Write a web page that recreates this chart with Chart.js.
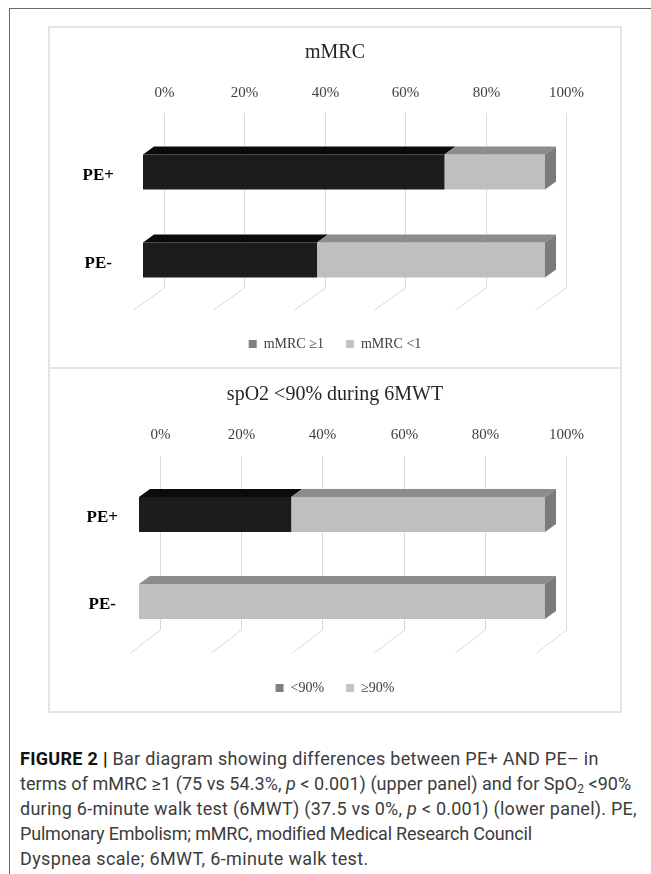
<!DOCTYPE html>
<html>
<head>
<meta charset="utf-8">
<script src="https://cdn.jsdelivr.net/npm/chart.js@4.4.1/dist/chart.umd.min.js"></script>
<style>
  body { margin: 0; background: #fff; }
  #page { position: relative; width: 651px; height: 874px; overflow: hidden; }
  .outer { position: absolute; left: 9px; top: 8px; width: 660px; height: 880px; border-left: 1.5px solid #666; border-top: 1.5px solid #666; }
  .frame { position: absolute; left: 48px; top: 26px; width: 574px; height: 687px; box-sizing: border-box; border: 2px solid #e4e4e4; }
  .divider { position: absolute; left: 48px; top: 367px; width: 574px; height: 2px; background: #e4e4e4; }
  canvas { position: absolute; }
  #mmrc { left: 50px; top: 28px; }
  #spo2 { left: 50px; top: 369px; }
  .caption { position: absolute; left: 20px; top: 746px; font-family: Roboto, sans-serif; font-size: 18px; line-height: 25px; color: #3c3c3c; white-space: nowrap; }
  .caption b { color: #111; }
  .caption sub { font-size: 12px; vertical-align: -3px; line-height: 0; }
</style>
</head>
<body>
<div id="page">
  <div class="outer"></div>
  <div class="frame"></div>
  <div class="divider"></div>
  <canvas id="mmrc" width="570" height="333"></canvas>
  <canvas id="spo2" width="570" height="336"></canvas>
  <div class="caption">
    <div style="letter-spacing:0.3px"><b>FIGURE 2 |</b> Bar diagram showing differences between PE+ AND PE– in</div>
    <div style="letter-spacing:0.05px">terms of mMRC ≥1 (75 vs 54.3%, <i>p</i> &lt; 0.001) (upper panel) and for SpO<sub>2</sub> &lt;90%</div>
    <div style="letter-spacing:0.25px">during 6-minute walk test (6MWT) (37.5 vs 0%, <i>p</i> &lt; 0.001) (lower panel). PE,</div>
    <div style="letter-spacing:-0.2px">Pulmonary Embolism; mMRC, modified Medical Research Council</div>
    <div style="letter-spacing:0.35px">Dyspnea scale; 6MWT, 6-minute walk test.</div>
  </div>
</div>
<script>
// values (percent of each group)
const groups = ["PE+", "PE-"];
const tickValues = [0, 20, 40, 60, 80, 100];
const mmrcAtLeast1 = [75, 43.3];
const mmrcBelow1 = [25, 56.7];
const spo2Below90 = [37.5, 0];
const spo2Above90 = [62.5, 100];

const serif = "'Liberation Serif', 'DejaVu Serif', serif";

// back wall grid + 3d faces of the bars (Excel style)
const bar3d = {
  id: "bar3d",
  beforeDatasetsDraw(chart, args, o) {
    const ctx = chart.ctx;
    const x = chart.scales.x;
    const a = chart.chartArea;
    ctx.save();
    ctx.strokeStyle = "#d9d9d9";
    ctx.lineWidth = 1;
    ctx.font = "15px " + serif;
    ctx.fillStyle = "#404040";
    ctx.textAlign = "center";
    ctx.textBaseline = "middle";
    tickValues.forEach(function (v) {
      const px = Math.round(x.getPixelForValue(v) + o.wallDx) + 0.5;
      const yb = a.bottom + o.gridBottom;
      ctx.beginPath();
      ctx.moveTo(px, a.top + o.gridTop);
      ctx.lineTo(px, yb);
      ctx.lineTo(px + o.floorDx, yb + o.floorDy);
      ctx.stroke();
      ctx.fillText(v + "%", px, a.top + o.tickY);
    });
    ctx.restore();
  },
  afterDatasetsDraw(chart, args, o) {
    const ctx = chart.ctx;
    const dx = o.depthDx, dy = o.depthDy;
    ctx.save();
    for (let i = 0; i < chart.data.labels.length; i++) {
      let last = null;
      chart.data.datasets.forEach(function (ds, d) {
        const bar = chart.getDatasetMeta(d).data[i];
        const p = bar.getProps(["x", "y", "base", "height"], true);
        const left = Math.min(p.base, p.x), right = Math.max(p.base, p.x);
        if (right - left < 0.5) return;
        const top = p.y - p.height / 2;
        ctx.fillStyle = ds.topColor;
        ctx.beginPath();
        ctx.moveTo(left, top);
        ctx.lineTo(left + dx, top + dy);
        ctx.lineTo(right + dx, top + dy);
        ctx.lineTo(right, top);
        ctx.closePath();
        ctx.fill();
        last = { right: right, top: top, bottom: top + p.height, color: ds.sideColor };
      });
      if (last) {
        ctx.fillStyle = last.color;
        ctx.beginPath();
        ctx.moveTo(last.right, last.top);
        ctx.lineTo(last.right + dx, last.top + dy);
        ctx.lineTo(last.right + dx, last.bottom + dy);
        ctx.lineTo(last.right, last.bottom);
        ctx.closePath();
        ctx.fill();
      }
    }
    ctx.restore();
  }
};

function makeChart(id, title, names, seriesA, seriesB, geo) {
  return new Chart(document.getElementById(id), {
    type: "bar",
    data: {
      labels: groups,
      datasets: [
        { label: names[0], data: seriesA, backgroundColor: "#1c1c1c", topColor: "#0b0b0b", sideColor: "#111111", legendColor: "#7f7f7f" },
        { label: names[1], data: seriesB, backgroundColor: "#bfbfbf", topColor: "#8c8c8c", sideColor: "#7b7b7b", legendColor: "#c3c3c3" }
      ]
    },
    options: {
      responsive: false,
      animation: false,
      indexAxis: "y",
      layout: { padding: 0 },
      datasets: { bar: { categoryPercentage: 1, barPercentage: 0.4, borderWidth: 0 } },
      scales: {
        x: {
          stacked: true, min: 0, max: 100, position: "bottom",
          grid: { display: false, drawTicks: false }, border: { display: false },
          ticks: { display: false },
          afterFit: function (s) { s.height = geo.gap; }
        },
        y: {
          stacked: true,
          grid: { display: false, drawTicks: false }, border: { display: false },
          ticks: {
            font: { family: serif, size: 17, weight: "bold" }, color: "#000",
            crossAlign: "center", padding: geo.labelPad, labelOffset: geo.labelOffset
          },
          afterFit: function (s) { s.width = geo.left; }
        },
        yR: {
          type: "linear", position: "right", display: true,
          grid: { display: false, drawTicks: false }, border: { display: false },
          ticks: { display: false },
          afterFit: function (s) { s.width = geo.right; }
        }
      },
      plugins: {
        title: {
          display: true, text: title, color: "#262626",
          font: { family: serif, size: 20, weight: "normal" },
          padding: { top: geo.titleTop, bottom: geo.titleBottom }
        },
        legend: {
          position: "bottom",
          labels: {
            font: { family: serif, size: 14 }, color: "#404040",
            boxWidth: 8, boxHeight: 8, padding: 22,
            generateLabels: function (chart) {
              return Chart.defaults.plugins.legend.labels.generateLabels(chart).map(function (item) {
                const c = chart.data.datasets[item.datasetIndex].legendColor;
                item.fillStyle = c;
                item.strokeStyle = c;
                item.lineWidth = 0;
                return item;
              });
            }
          }
        },
        tooltip: { enabled: false },
        bar3d: geo
      }
    },
    plugins: [bar3d]
  });
}

makeChart("mmrc", "mMRC", ["mMRC ≥1", "mMRC <1"], mmrcAtLeast1, mmrcBelow1, {
  left: 93, right: 75, gap: 11, titleTop: 13, titleBottom: 63,
  labelPad: 29, labelOffset: 4,
  wallDx: 21, gridTop: -15, gridBottom: -16, floorDx: -31, floorDy: 22, tickY: -35,
  depthDx: 11, depthDy: -8
});

makeChart("spo2", "spO2 <90% during 6MWT", ["<90%", "≥90%"], spo2Below90, spo2Above90, {
  left: 89, right: 75, gap: 14, titleTop: 14, titleBottom: 64,
  labelPad: 21, labelOffset: 3,
  wallDx: 21, gridTop: -15, gridBottom: -15, floorDx: -30, floorDy: 23, tickY: -36,
  depthDx: 11, depthDy: -8
});
</script>
</body>
</html>
